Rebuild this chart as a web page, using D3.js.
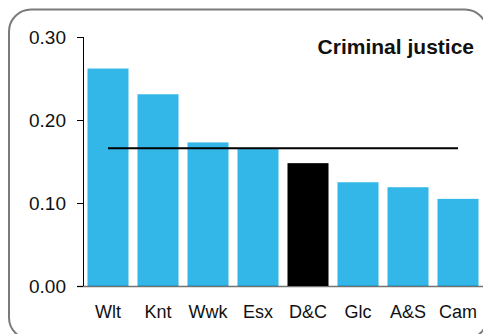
<!DOCTYPE html>
<html>
<head>
<meta charset="utf-8">
<script src="https://cdn.jsdelivr.net/npm/d3@7"></script>
<style>
  body { margin: 0; background: #fff; }
  svg { display: block; font-family: "Liberation Sans", Arial, sans-serif; }
</style>
</head>
<body>
<div id="chart"></div>
<script>
// 数据
const categories = ['Wlt', 'Knt', 'Wwk', 'Esx', 'D&C', 'Glc', 'A&S', 'Cam'];
const values = [0.262, 0.231, 0.173, 0.165, 0.148, 0.125, 0.119, 0.105];
const highlight = 'D&C';
const average = 0.166;
const yTicks = [0.00, 0.10, 0.20, 0.30];
const title = 'Criminal justice';

const W = 483, H = 334;
const svg = d3.select('#chart').append('svg').attr('width', W).attr('height', H);

// 圆角边框
svg.append('rect')
    .attr('x', 9).attr('y', 9.5).attr('width', 478).attr('height', 330)
    .attr('rx', 22).attr('ry', 22)
    .attr('fill', 'none').attr('stroke', '#7a7a7a').attr('stroke-width', 2);

const x = d3.scaleBand().domain(categories).range([83, 483])
    .paddingInner(0.18).paddingOuter(0.09);
const y = d3.scaleLinear().domain([0, 0.30]).range([286, 37]);

const data = categories.map((c, i) => ({ cat: c, value: values[i] }));

// 条形
svg.selectAll('.bar').data(data).enter().append('rect')
    .attr('class', 'bar')
    .attr('x', d => x(d.cat))
    .attr('y', d => y(d.value))
    .attr('width', x.bandwidth())
    .attr('height', d => y(0) - y(d.value))
    .attr('fill', d => d.cat === highlight ? '#000' : '#33b7e8');

// 平均线
svg.append('line')
    .attr('x1', x(categories[0]) + x.bandwidth() / 2)
    .attr('x2', x(categories[categories.length - 1]) + x.bandwidth() / 2)
    .attr('y1', y(average)).attr('y2', y(average))
    .attr('stroke', '#000').attr('stroke-width', 2);

// y 轴
const yAxis = svg.append('g').attr('transform', 'translate(83,0)')
    .call(d3.axisLeft(y).tickValues(yTicks).tickFormat(d3.format('.2f')).tickSize(6).tickPadding(11));
yAxis.select('.domain').attr('stroke', '#000').attr('d', `M0.5,${y(0.30)}V${y(0)}`);
yAxis.selectAll('.tick line').attr('stroke', '#000');
yAxis.selectAll('.tick text').attr('font-size', 19).attr('fill', '#111')
    .attr('font-family', '"Liberation Sans", Arial, sans-serif');

// x 轴
const xAxis = svg.append('g').attr('transform', `translate(0,${y(0)})`)
    .call(d3.axisBottom(x).tickSize(0).tickPadding(19));
xAxis.select('.domain').attr('stroke', '#000').attr('stroke-opacity', 0.55)
    .attr('stroke-width', 1.5).attr('d', `M77,0.5H483`);
xAxis.selectAll('.tick text').attr('font-size', 18).attr('fill', '#111')
    .attr('font-family', '"Liberation Sans", Arial, sans-serif');

// 标题
svg.append('text')
    .attr('x', 474).attr('y', 54)
    .attr('text-anchor', 'end')
    .attr('font-size', 21).attr('font-weight', 'bold').attr('fill', '#111')
    .text(title);
</script>
</body>
</html>
